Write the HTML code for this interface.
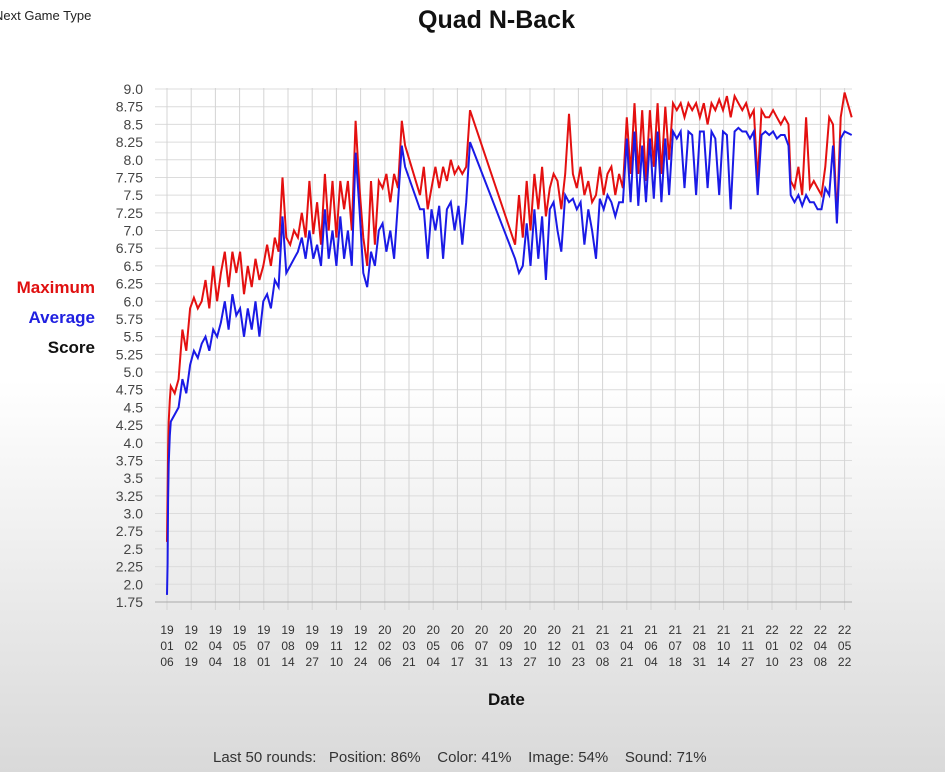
<!DOCTYPE html>
<html><head><meta charset="utf-8">
<style>
html,body{margin:0;padding:0;}
body{width:945px;height:772px;overflow:hidden;background:linear-gradient(to bottom,#ffffff 0px,#ffffff 380px,#d9d9d9 772px);font-family:"Liberation Sans",sans-serif;position:relative;}
.t{position:absolute;white-space:nowrap;}
</style></head>
<body>
<div class="t" style="left:-6px;top:8px;font-size:13px;color:#222;">Next Game Type</div>
<div class="t" style="left:418px;top:6px;font-size:25px;font-weight:bold;color:#111;">Quad N-Back</div>
<div class="t" style="right:850px;top:278px;font-size:17px;font-weight:bold;color:#e01010;">Maximum</div>
<div class="t" style="right:850px;top:308px;font-size:17px;font-weight:bold;color:#2020e0;">Average</div>
<div class="t" style="right:850px;top:338px;font-size:17px;font-weight:bold;color:#111;">Score</div>
<div class="t" style="left:488px;top:690px;font-size:17px;font-weight:bold;color:#111;">Date</div>
<div class="t" style="left:213px;top:749px;font-size:15px;color:#333;">Last 50 rounds:&nbsp;&nbsp; Position: 86%&nbsp;&nbsp;&nbsp; Color: 41%&nbsp;&nbsp;&nbsp; Image: 54%&nbsp;&nbsp;&nbsp; Sound: 71%</div>
<svg id="chart" width="945" height="772" style="position:absolute;left:0;top:0;"></svg>
<script>
const dateLabels=["190106","190219","190404","190518","190701","190814","190927","191110","191224","200206","200321","200504","200617","200731","200913","201027","201210","210123","210308","210421","210604","210718","210831","211014","211127","220110","220223","220408","220522"];
const yTicks=["1.75","2.0","2.25","2.5","2.75","3.0","3.25","3.5","3.75","4.0","4.25","4.5","4.75","5.0","5.25","5.5","5.75","6.0","6.25","6.5","6.75","7.0","7.25","7.5","7.75","8.0","8.25","8.5","8.75","9.0"];
const days=[0,1,2,3,5,7,14,21,28,35,42,49,56,63,70,77,84,91,98,105,112,119,126,133,140,147,154,161,168,175,182,189,196,203,210,217,224,231,238,245,252,259,266,273,280,287,294,301,308,315,322,329,336,343,350,357,364,371,378,385,392,399,406,413,420,427,433,460,467,474,481,488,495,502,509,516,523,530,537,544,551,633,640,647,654,661,668,675,682,689,696,703,710,717,724,731,738,745,752,759,766,773,780,787,794,801,808,815,822,829,836,843,850,857,864,871,878,885,892,899,906,913,920,927,934,941,948,955,962,969,976,983,990,997,1004,1011,1018,1025,1032,1039,1046,1053,1060,1067,1074,1081,1088,1095,1102,1109,1116,1123,1130,1134,1141,1148,1155,1162,1169,1176,1183,1190,1197,1204,1211,1218,1225,1232,1245];
const maxScores=[2.6,3.3,3.9,4.3,4.6,4.8,4.7,4.9,5.6,5.3,5.9,6.05,5.9,6.0,6.3,5.9,6.5,6.0,6.4,6.7,6.2,6.7,6.4,6.7,6.1,6.5,6.2,6.6,6.3,6.5,6.8,6.5,6.9,6.7,7.75,6.9,6.8,7.0,6.9,7.25,6.9,7.7,6.95,7.4,6.8,7.8,7.0,7.7,6.9,7.7,7.3,7.7,7.0,8.55,7.6,6.9,6.5,7.7,6.8,7.7,7.6,7.8,7.4,7.8,7.6,8.55,8.2,7.5,7.9,7.3,7.6,7.9,7.6,7.9,7.7,8.0,7.8,7.9,7.8,7.9,8.7,6.8,7.5,6.9,7.7,7.0,7.8,7.3,7.9,7.2,7.6,7.8,7.7,7.3,7.8,8.65,7.8,7.6,7.9,7.5,7.7,7.4,7.5,7.9,7.5,7.8,7.9,7.5,7.8,7.6,8.6,7.8,8.8,7.8,8.7,7.7,8.7,7.9,8.8,7.8,8.75,8.0,8.8,8.7,8.8,8.6,8.8,8.7,8.8,8.6,8.8,8.5,8.8,8.7,8.85,8.7,8.9,8.6,8.9,8.8,8.7,8.8,8.6,8.7,7.7,8.7,8.6,8.6,8.7,8.6,8.5,8.6,8.5,7.7,7.6,7.9,7.5,8.6,7.6,7.7,7.6,7.5,7.9,8.6,8.5,7.15,8.6,8.95,8.6];
const avgScores=[1.85,2.3,3.2,3.7,4.1,4.3,4.4,4.5,4.9,4.7,5.1,5.3,5.2,5.4,5.5,5.3,5.6,5.5,5.7,6.0,5.6,6.1,5.8,5.9,5.5,5.9,5.6,6.0,5.5,6.0,6.1,5.9,6.3,6.2,7.2,6.4,6.5,6.6,6.7,6.9,6.6,7.0,6.6,6.8,6.5,7.3,6.6,7.0,6.5,7.2,6.6,7.0,6.5,8.1,7.3,6.4,6.2,6.7,6.5,7.0,7.1,6.7,7.0,6.6,7.4,8.2,7.9,7.3,7.3,6.6,7.3,7.0,7.35,6.6,7.3,7.4,7.0,7.35,6.8,7.4,8.25,6.6,6.4,6.5,7.1,6.5,7.3,6.6,7.2,6.3,7.3,7.4,7.0,6.7,7.5,7.4,7.45,7.3,7.4,6.8,7.3,7.0,6.6,7.45,7.3,7.5,7.4,7.2,7.4,7.4,8.3,7.4,8.4,7.35,8.2,7.4,8.3,7.45,8.4,7.4,8.3,7.5,8.4,8.3,8.4,7.6,8.4,8.35,7.5,8.4,8.4,7.6,8.4,8.3,7.5,8.4,8.35,7.3,8.4,8.45,8.4,8.4,8.3,8.4,7.5,8.35,8.4,8.35,8.4,8.3,8.35,8.35,8.2,7.5,7.4,7.5,7.35,7.5,7.4,7.4,7.3,7.3,7.6,7.5,8.2,7.1,8.3,8.4,8.35];

const svg=document.getElementById('chart');
const NS='http://www.w3.org/2000/svg';
const X0=167,DX=24.2/44,Y0=602,YTOP=89,YMIN=1.75,YMAX=9.0;
function xs(d){return X0+d*DX;}
function ys(v){return Y0-(v-YMIN)/(YMAX-YMIN)*(Y0-YTOP);}
function mk(tag,attrs){const e=document.createElementNS(NS,tag);for(const k in attrs)e.setAttribute(k,attrs[k]);svg.appendChild(e);return e;}

yTicks.forEach((t,i)=>{
  const v=parseFloat(t),y=ys(v);
  const g=mk('line',{x1:155,x2:852,y1:y,y2:y,stroke:'#dcdcdc','stroke-width':1});
  
  
  const tx=mk('text',{x:143,y:y+5,'text-anchor':'end','font-size':14,fill:'#444','font-family':'Liberation Sans, sans-serif'});
  tx.textContent=t;
  
  
});
dateLabels.forEach((lab,i)=>{
  const x=xs(i*44);
  const g=mk('line',{x1:x,x2:x,y1:YTOP-1,y2:610,stroke:'#d4d4d4','stroke-width':1});
  
  
  [lab.slice(0,2),lab.slice(2,4),lab.slice(4,6)].forEach((p,j)=>{
    const tx=mk('text',{x:x,y:634+j*16,'text-anchor':'middle','font-size':12,fill:'#333','font-family':'Liberation Sans, sans-serif'});
    tx.textContent=p;
    
    
  });
});
const ax=mk('line',{x1:155,x2:852,y1:Y0,y2:Y0,stroke:'#aaa','stroke-width':1});



function series(vals,color,name){
  const pts=days.map((d,i)=>xs(d).toFixed(1)+','+ys(vals[i]).toFixed(1)).join(' ');
  const p=mk('polyline',{points:pts,fill:'none',stroke:color,'stroke-width':2,'stroke-linejoin':'miter'});
  
  
}
series(maxScores,'#e41010','maximum-line');
series(avgScores,'#1a1ae6','average-line');
</script>
</body></html>
